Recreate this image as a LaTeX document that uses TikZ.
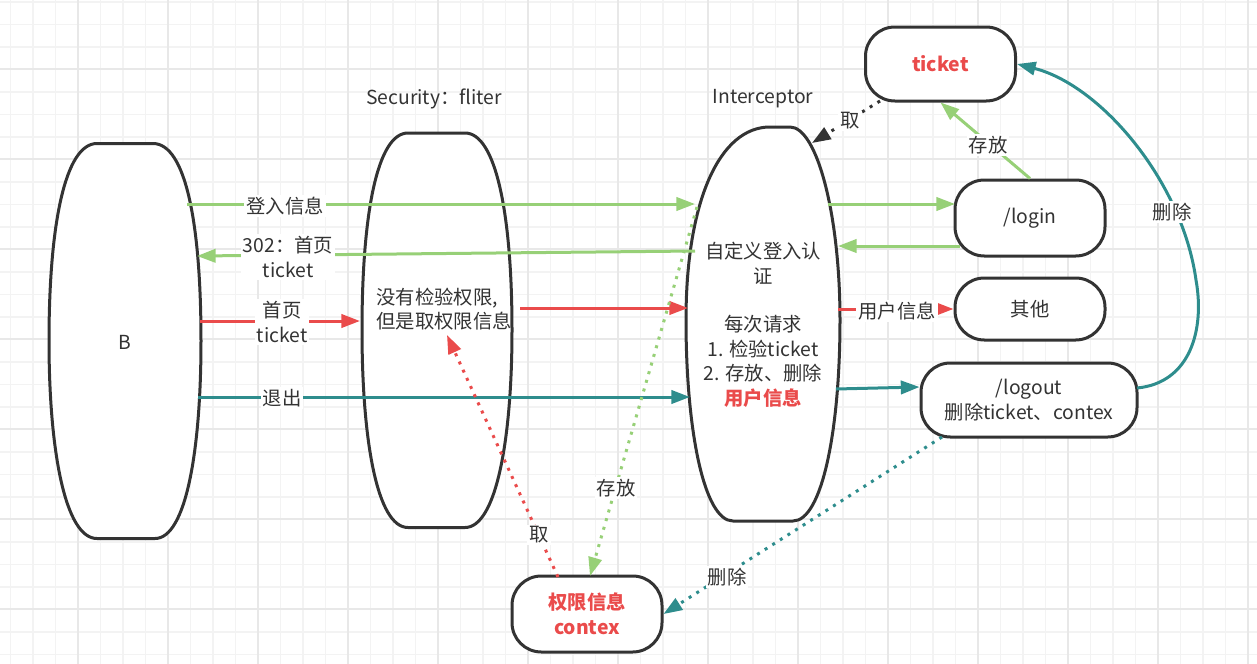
\documentclass[tikz,border=0pt]{standalone}
\usepackage{fontspec}
\setmainfont{Noto Sans CJK SC}
\usetikzlibrary{arrows.meta}

\definecolor{ink}{RGB}{51,51,51}
\definecolor{okgreen}{RGB}{151,208,119}
\definecolor{hotred}{RGB}{234,75,75}
\definecolor{tealline}{RGB}{46,141,141}
\definecolor{gridminor}{RGB}{243,243,243}
\definecolor{gridmajor}{RGB}{232,232,232}
\newcommand\diagfont{\fontsize{14.5}{18.4}\selectfont}

\tikzset{every picture/.style={line width=2.25pt}}
\tikzset{
  txt/.style={text=ink, font=\diagfont, align=center, inner sep=0.75pt},
  lbl/.style={txt, fill=white, inner sep=1.5pt},
  pill/.style={draw=ink, fill=white, rounded corners=22pt, txt, minimum width=112.5pt, minimum height=55.5pt},
  outline/.style={draw=ink, fill=white},
  tip/.style={-{Triangle[length=14pt,width=10pt]}},
  dots/.style={dash pattern=on 2.25pt off 4.5pt}
}

\begin{document}
\begin{tikzpicture}[x=0.75pt,y=0.75pt,yscale=-1,xscale=1]
\useasboundingbox (0,0) rectangle (1257,664);

%Grid
\foreach \gx in {10.5,33,...,1257} \draw[gridminor, line width=1.2pt] (\gx,0) -- (\gx,664);
\foreach \gy in {1.8,24.3,...,664} \draw[gridminor, line width=1.2pt] (0,\gy) -- (1257,\gy);
\foreach \gx in {78,168,...,1257} \draw[gridmajor, line width=1.6pt] (\gx,0) -- (\gx,664);
\foreach \gy in {69.3,159.3,...,664} \draw[gridmajor, line width=1.6pt] (0,\gy) -- (1257,\gy);

%Shape: Browser
\draw[outline] (97,143.5) -- (153,143.5) .. controls (186,143.5) and (201,225) .. (201,341) .. controls (201,450) and (186,538.5) .. (155,538.5) -- (97,538.5) .. controls (65,538.5) and (49,450) .. (49,341) .. controls (49,225) and (65,143.5) .. (97,143.5) -- cycle ;
%Shape: Security filter
\draw[outline] (408,133) -- (465,133) .. controls (496,133) and (512,215) .. (512,330) .. controls (512,440) and (496,527.5) .. (465,527.5) -- (408,527.5) .. controls (377,527.5) and (362,440) .. (362,330) .. controls (362,215) and (377,133) .. (408,133) -- cycle ;
%Shape: Interceptor
\draw[outline] (770,127) -- (790,127) .. controls (817,127) and (840,215) .. (840,320) .. controls (840,430) and (822,521) .. (793,521) -- (733,521) .. controls (704,521) and (686,430) .. (686,320) .. controls (686,200) and (720,127) .. (770,127) -- cycle ;

%Shape: Boxes
\node[pill] (ticket) at (940.5,64) {\textcolor{hotred}{\bfseries ticket}};
\node[pill, minimum height=57pt] (login) at (1030,218) {/login};
\node[pill, minimum height=46.5pt] (other) at (1030,309) {其他};
\node[pill, minimum width=162pt] (logout) at (1029,400) {/logout\\删除ticket、contex};
\node[pill, minimum height=57pt] (contex) at (587,614) {\textcolor{hotred}{\bfseries 权限信息}\\\textcolor{hotred}{\bfseries contex}};

% Text Node
\node[txt] (browser) at (125,342) {B};
\node[txt] (sec-title) at (434,99) {Security：fliter};
\node[txt] (int-title) at (763,99) {Interceptor};
\node[txt, anchor=west, align=left] (sec) at (374,309) {没有检验权限,\\但是取权限信息};
\node[txt] (int) at (763,325) {自定义登入认\\证\\[18pt]每次请求\\1. 检验ticket\\2. 存放、删除\\\textcolor{hotred}{\bfseries 用户信息}};

%Connector points
\coordinate (b-r1) at (187,204);
\coordinate (b-r2) at (197,256);
\coordinate (b-r3) at (200,321);
\coordinate (b-r4) at (198,397);
\coordinate (sec-l) at (360,321);
\coordinate (sec-r) at (520,308);
\coordinate (sec-in) at (447,335);
\coordinate (int-l1) at (695,204);
\coordinate (int-l2) at (695,251);
\coordinate (int-l3) at (688,308);
\coordinate (int-l4) at (690,397);
\coordinate (int-l5) at (697,207);
\coordinate (int-r1) at (828,204);
\coordinate (int-r2) at (838,246);
\coordinate (int-r3) at (838,309);
\coordinate (int-r4) at (836,389);
\coordinate (int-top) at (812,143);
\coordinate (login-l1) at (955,204);
\coordinate (login-l2) at (960,246);
\coordinate (ticket-bl) at (880,101);
\coordinate (logout-r) at (1137,388);
\coordinate (logout-b) at (942,437);
\coordinate (contex-t1) at (558,577);
\coordinate (contex-t2) at (590,576);

%Straight Lines
\draw[okgreen, tip] (b-r1) -- (int-l1);
\draw[okgreen, tip] (int-l2) -- (b-r2);
\draw[hotred, tip] (b-r3) -- (sec-l);
\draw[hotred, tip] (sec-r) -- (int-l3);
\draw[tealline, tip] (b-r4) -- (int-l4);
\draw[okgreen, tip] (int-r1) -- (login-l1);
\draw[okgreen, tip] (login-l2) -- (int-r2);
\draw[hotred, tip] (int-r3) -- (other.west);
\draw[tealline, tip] (int-r4) -- (logout.west |- 0,387);
\draw[okgreen, tip] (login.north) -- (ticket.south);
\draw[ink, dots, tip] (ticket-bl) -- (int-top);
\draw[tealline, tip] (logout-r) .. controls (1190,383) and (1205,330) .. (1196,280) .. controls (1182,180) and (1100,85) .. (ticket.east);
\draw[tealline, dots, tip] (logout-b) -- (contex.east);
\draw[hotred, dots, tip] (contex-t1) -- (sec-in);
\draw[okgreen, dots, tip] (int-l5) -- (contex-t2);

% Edge labels
\node[lbl] (l-info) at (285,206) {登入信息};
\node[lbl] (l-302) at (288,257) {302：首页\\ticket};
\node[lbl] (l-home) at (282,322) {首页\\ticket};
\node[lbl] (l-exit) at (282,398) {退出};
\node[lbl] (l-user) at (897,311) {用户信息};
\node[lbl] (l-store1) at (988,145) {存放};
\node[lbl] (l-get1) at (850,121) {取};
\node[lbl] (l-del1) at (1172,212) {删除};
\node[lbl] (l-del2) at (727,577) {删除};
\node[lbl] (l-get2) at (539,535) {取};
\node[lbl] (l-store2) at (616,488) {存放};

\end{tikzpicture}
\end{document}
